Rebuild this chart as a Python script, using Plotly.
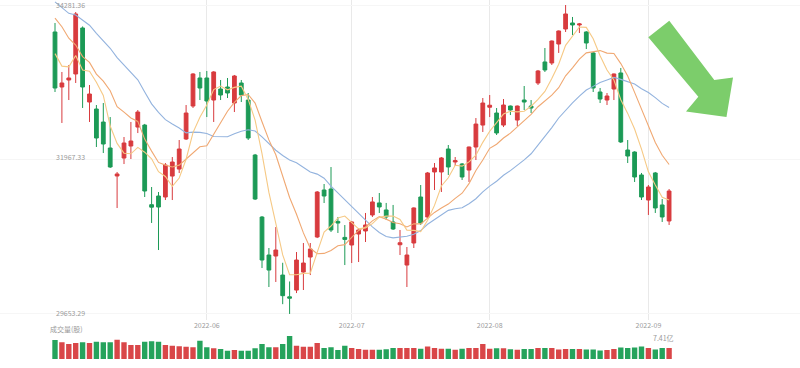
import plotly.graph_objects as go
import numpy as np

# ---------------- data ----------------
dates = [
    "2022-04-29", "2022-05-02", "2022-05-03", "2022-05-04", "2022-05-05", "2022-05-06",
    "2022-05-09", "2022-05-10", "2022-05-11", "2022-05-12", "2022-05-13",
    "2022-05-16", "2022-05-17", "2022-05-18", "2022-05-19", "2022-05-20",
    "2022-05-23", "2022-05-24", "2022-05-25", "2022-05-26", "2022-05-27",
    "2022-05-31", "2022-06-01", "2022-06-02", "2022-06-03",
    "2022-06-06", "2022-06-07", "2022-06-08", "2022-06-09", "2022-06-10",
    "2022-06-13", "2022-06-14", "2022-06-15", "2022-06-16", "2022-06-17",
    "2022-06-21", "2022-06-22", "2022-06-23", "2022-06-24",
    "2022-06-27", "2022-06-28", "2022-06-29", "2022-06-30", "2022-07-01",
    "2022-07-05", "2022-07-06", "2022-07-07", "2022-07-08",
    "2022-07-11", "2022-07-12", "2022-07-13", "2022-07-14", "2022-07-15",
    "2022-07-18", "2022-07-19", "2022-07-20", "2022-07-21", "2022-07-22",
    "2022-07-25", "2022-07-26", "2022-07-27", "2022-07-28", "2022-07-29",
    "2022-08-01", "2022-08-02", "2022-08-03", "2022-08-04", "2022-08-05",
    "2022-08-08", "2022-08-09", "2022-08-10", "2022-08-11", "2022-08-12",
    "2022-08-15", "2022-08-16", "2022-08-17", "2022-08-18", "2022-08-19",
    "2022-08-22", "2022-08-23", "2022-08-24", "2022-08-25", "2022-08-26",
    "2022-08-29", "2022-08-30", "2022-08-31", "2022-09-01", "2022-09-02",
    "2022-09-06", "2022-09-07",
]

open_ = [
    33877, 33053, 33158, 33248, 33937, 32828,
    32723, 32528, 32139, 31720, 31989,
    32169, 32453, 32483, 31290, 31420,
    31405, 31719, 31824, 32274, 32768,
    33188, 33188, 32858, 33023,
    33053, 32813, 33113, 32858, 32034,
    31105, 30536, 30521, 30236, 29910,
    30011, 30281, 30506, 30806,
    31510, 31525, 31040, 30800, 30686,
    30851, 30896, 31136, 31316,
    31211, 31031, 30690, 30386, 30716,
    31405, 31105, 31780, 31780, 32124,
    31930, 31900, 31809, 32154, 32483,
    32750, 32663, 32483, 32768, 32558,
    32858, 32768, 33113, 33428, 33413,
    33697, 33922, 34012, 33982, 33877,
    33563, 32978, 32858, 33023, 33263,
    32109, 32079, 31735, 31360, 31765,
    31286, 31046,
]
high = [
    34012, 33278, 33382, 34176, 33960, 33083,
    32783, 32813, 32603, 31780, 32304,
    32529, 32708, 32500, 31555, 31480,
    31914, 32004, 32259, 32783, 33260,
    33278, 33293, 33290, 33158,
    33188, 33233, 33158, 32963, 32050,
    31120, 30641, 30955, 30420, 30140,
    30581, 30716, 30716, 31495,
    31600, 31854, 31106, 30985, 31045,
    30941, 31166, 31405, 31465,
    31316, 31286, 30911, 30656, 31250,
    31585, 31780, 31914, 32004, 32184,
    32004, 31914, 32160, 32588, 32888,
    32933, 32738, 32873, 32775, 32775,
    33068, 32858, 33308, 33637, 33750,
    33900, 34281.36, 34102, 34012, 33890,
    33578, 33038, 32963, 33255, 33338,
    32259, 32090, 31765, 31585, 31780,
    31375, 31525,
]
low = [
    32978, 32514, 32858, 33113, 32739, 32529,
    32154, 32064, 31840, 31240, 31899,
    31974, 32363, 31405, 31016, 30611,
    31360, 31360, 31764, 32259, 32739,
    32858, 32603, 32529, 32858,
    32888, 32678, 32828, 32259, 31360,
    30341, 30057, 30132, 29800, 29653.29,
    29966, 30012, 30236, 30790,
    31315, 30881, 30866, 30386, 30416,
    30431, 30731, 31106, 31166,
    31061, 30911, 30536, 30057, 30641,
    30986, 31091, 31510, 31480, 31735,
    31870, 31660, 31630, 31959, 32379,
    32603, 32334, 32453, 32633, 32468,
    32708, 32663, 33083, 33278, 33383,
    33563, 33877, 33832, 33862, 33622,
    32978, 32813, 32783, 32858, 32214,
    31914, 31630, 31360, 31136, 31166,
    31031, 30986,
]
close = [
    33038, 33113, 33188, 34147, 33053, 32948,
    32289, 32199, 31855, 31750, 32214,
    32244, 32678, 31495, 31253, 31255,
    31884, 31929, 32124, 32663, 33248,
    33038, 32843, 33278, 32933,
    32963, 33218, 32933, 32289, 31375,
    30461, 30311, 30611, 29927, 29890,
    30461, 30416, 30626, 31480,
    31420, 30911, 31015, 30770, 31031,
    30911, 30986, 31331, 31256,
    31106, 30926, 30720, 30536, 31241,
    31016, 31765, 31840, 31990, 31855,
    31950, 31705, 32154, 32498, 32813,
    32780, 32364, 32783, 32708, 32768,
    32828, 32738, 33293, 33308, 33742,
    33892, 34147, 33982, 33997, 33712,
    33038, 32873, 32918, 33248, 32230,
    32019, 31705, 31405, 31555, 31241,
    31106, 31495,
]
# volume, in 亿 (hundred million shares)
volume = [
    12.81, 11.26, 10.11, 10.78, 11.26, 10.78,
    11.66, 11.26, 11.26, 13.01, 11.26,
    9.44, 9.44, 11.66, 11.93, 11.66,
    9.44, 8.96, 8.56, 8.29, 7.89,
    12.33, 7.89, 7.21, 6.74,
    5.59, 6.07, 5.59, 5.59, 7.21,
    10.11, 7.89, 7.89, 10.11, 15.50,
    8.96, 8.29, 8.29, 10.78,
    7.41, 7.89, 6.07, 8.96, 7.41,
    6.74, 6.27, 6.27, 6.20,
    6.50, 7.40, 7.40, 7.40, 7.40,
    7.00, 8.40, 7.40, 7.00, 7.00,
    6.20, 7.00, 7.40, 7.40, 10.20,
    7.00, 7.20, 7.20, 6.60, 6.20,
    6.74, 6.74, 7.41, 7.41, 7.41,
    6.40, 6.74, 6.74, 6.74, 6.40,
    6.40, 5.73, 6.07, 6.74, 7.75,
    7.41, 7.75, 8.43, 7.41, 6.40,
    7.41, 7.41,
]
# closes before the first visible candle (needed for the moving averages)
prior_closes = [
    34818, 34922, 34641, 34497, 34584, 34721, 34308, 34220, 34565, 34451,
    34412, 34911, 35161, 34793, 33811, 34049, 33240, 33302, 34137,
]

month_ticks = ["2022-06-01", "2022-07-01", "2022-08-01", "2022-09-01"]
month_labels = ["2022-06", "2022-07", "2022-08", "2022-09"]
price_ticks = [34281.36, 31967.33, 29653.29]
volume_title = "成交量(股)"
last_volume_label = "7.41亿"

# ---------------- derived series ----------------
all_close = np.array(prior_closes + close, dtype=float)
n0 = len(prior_closes)


def moving_average(n):
    return [all_close[i - n + 1:i + 1].mean() for i in range(n0, len(all_close))]


ma5 = moving_average(5)
ma10 = moving_average(10)
ma20 = moving_average(20)

RED = "#d83b3e"
GREEN = "#1c9a56"
vol_colors = ["#d94648" if c >= o else "#25a35c" for o, c in zip(open_, close)]

W, H = 800, 368
FONT = "Noto Sans CJK SC, Roboto, sans-serif"


def py(p):
    return 1 - p / H


# x mapping: index 0 at 55px, 6.9 px per candle
step = 6.9
r0 = -55 / step
r1 = r0 + W / step

fig = go.Figure()
fig.add_trace(go.Candlestick(
    x=dates, open=open_, high=high, low=low, close=close,
    increasing=dict(line=dict(color=RED, width=1), fillcolor=RED),
    decreasing=dict(line=dict(color=GREEN, width=1), fillcolor=GREEN),
    whiskerwidth=0, showlegend=False, hoverinfo="skip",
    xaxis="x", yaxis="y",
))
for vals, col in [(ma20, "#93b3de"), (ma10, "#f0a872"), (ma5, "#f6c985")]:
    fig.add_trace(go.Scatter(
        x=dates, y=vals, mode="lines", line=dict(color=col, width=1.1),
        showlegend=False, hoverinfo="skip", xaxis="x", yaxis="y",
    ))
fig.add_trace(go.Bar(
    x=dates, y=volume, marker=dict(color=vol_colors, line=dict(width=0)),
    width=0.78, showlegend=False, hoverinfo="skip", xaxis="x2", yaxis="y2",
))

# price axis: 34281.36 at 5px, 14.98 per px
ppx = 14.98
top_price = price_ticks[0] + 5 * ppx
bottom_price = top_price - 320 * ppx

annotations = []
for v, ypix in zip(price_ticks, [5, 157, 313]):
    annotations.append(dict(
        x=54 / W, y=py(ypix), xref="paper", yref="paper", xanchor="left", yanchor="middle",
        text="%.2f" % v, showarrow=False, font=dict(family=FONT, size=7, color="#9a9a9a"),
    ))
annotations.append(dict(
    x=48 / W, y=py(329), xref="paper", yref="paper", xanchor="left", yanchor="middle",
    text=volume_title, showarrow=False, font=dict(family=FONT, size=7, color="#9a9a9a"),
))
annotations.append(dict(
    x=651 / W, y=py(338), xref="paper", yref="paper", xanchor="left", yanchor="middle",
    text=last_volume_label, showarrow=False, font=dict(family=FONT, size=7, color="#9a9a9a"),
))

arrow_pts = [(669.3, 20.7), (714.3, 80), (733, 77.5), (726.5, 117), (686, 111.5),
             (698.3, 96.7), (648.3, 37.3)]
path = "M " + " L ".join("%.4f,%.4f" % (x / W, py(y)) for x, y in arrow_pts) + " Z"

fig.update_layout(
    width=W, height=H,
    margin=dict(l=0, r=0, t=0, b=0),
    paper_bgcolor="white", plot_bgcolor="white",
    boxgap=0.22,
    xaxis=dict(
        type="category", domain=[0, 1], range=[r0, r1], anchor="y",
        rangeslider=dict(visible=False),
        tickmode="array", tickvals=month_ticks, ticktext=month_labels,
        showgrid=True, gridcolor="#e9e9e9", gridwidth=1, ticks="",
        tickfont=dict(family=FONT, size=7, color="#9a9a9a"),
        showline=False, zeroline=False,
    ),
    yaxis=dict(
        domain=[py(320), 1], range=[bottom_price, top_price],
        tickmode="array", tickvals=price_ticks, showticklabels=False,
        showgrid=True, gridcolor="#f6f6f6", zeroline=False, showline=False,
    ),
    xaxis2=dict(
        type="category", domain=[0, 1], range=[r0, r1], anchor="y2",
        showticklabels=False, showgrid=False, zeroline=False, showline=False,
    ),
    yaxis2=dict(
        domain=[py(359), py(335.3)], range=[0, 16],
        showticklabels=False, showgrid=False, zeroline=False, showline=False,
    ),
    annotations=annotations,
    shapes=[dict(type="path", xref="paper", yref="paper", path=path,
                 fillcolor="#7ccd6b", line=dict(width=0), layer="above")],
)

fig.write_html("out.html")
